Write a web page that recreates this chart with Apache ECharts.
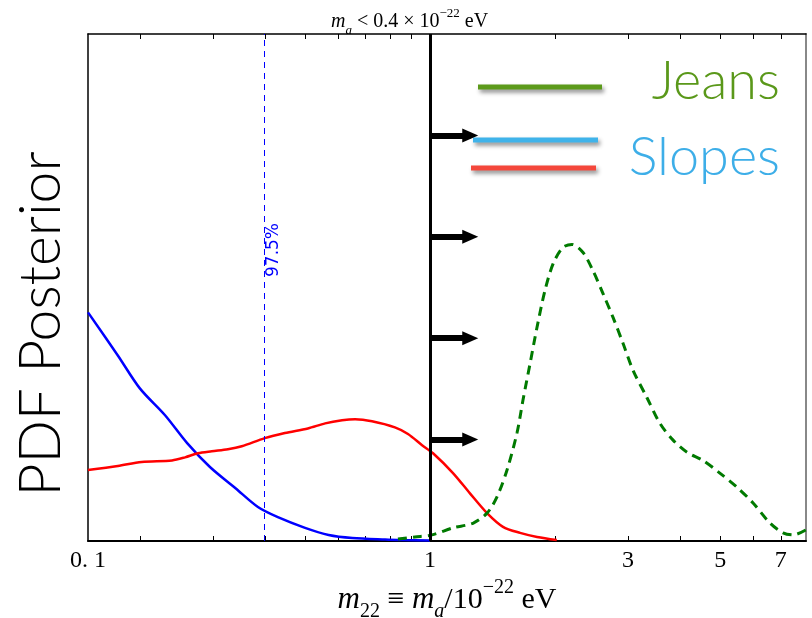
<!DOCTYPE html>
<html>
<head>
<meta charset="utf-8">
<title>PDF Posterior</title>
<script src="https://cdn.jsdelivr.net/npm/echarts@6/dist/echarts.min.js"></script>
<style>
  html, body { margin: 0; padding: 0; background: #fff; }
  #chart { width: 812px; height: 618px; }
</style>
</head>
<body>
<div id="chart"></div>
<script>
// m22 sample points (log axis) and posterior values (arbitrary units)
const slopesBlueX = [0.15, 0.177, 0.2, 0.23, 0.26, 0.295, 0.34, 0.385, 0.43, 0.5, 0.57, 0.65, 0.78, 0.86, 1.0]
const slopesBlueY = [0.451, 0.366, 0.301, 0.248, 0.193, 0.146, 0.104, 0.067, 0.047, 0.026, 0.012, 0.006, 0.003, 0.002, 0.001]

const slopesRedX = [0.15, 0.177, 0.202, 0.239, 0.257, 0.276, 0.298, 0.326, 0.352, 0.4, 0.447, 0.508, 0.559, 0.614, 0.66,
  0.725, 0.823, 0.885, 0.957, 1.017, 1.136, 1.248, 1.372, 1.499, 1.648, 1.811, 2.02]
const slopesRedY = [0.140, 0.148, 0.156, 0.159, 0.165, 0.173, 0.177, 0.181, 0.187, 0.203, 0.213, 0.222, 0.232, 0.238, 0.240,
  0.236, 0.224, 0.211, 0.189, 0.173, 0.134, 0.094, 0.055, 0.028, 0.016, 0.008, 0.002]

const jeansX = [0.837, 0.92, 1.011, 1.136, 1.269, 1.372, 1.45, 1.533, 1.62, 1.675, 1.742, 1.81, 1.892, 1.98, 2.09, 2.198,
  2.337, 2.47, 2.611, 2.76, 2.917, 3.083, 3.33, 3.581, 3.851, 4.162, 4.543, 4.991, 5.49, 6.002, 6.599, 7.09, 7.5, 8.05]
const jeansY = [0.004, 0.008, 0.012, 0.026, 0.035, 0.055, 0.087, 0.140, 0.213, 0.278, 0.350, 0.421, 0.494, 0.547, 0.579, 0.585,
  0.569, 0.533, 0.488, 0.441, 0.390, 0.337, 0.283, 0.232, 0.199, 0.175, 0.159, 0.134, 0.106, 0.075, 0.035, 0.016, 0.012, 0.022]

/** axis range and ticks (m22) */
const xMin = 0.15
const xMax = 8.05
const tickValues = [0.2, 0.3, 0.4, 0.5, 0.6, 0.7, 0.8, 0.9, 1, 2, 3, 4, 5, 6, 7]
const labelValues = [0.15, 1, 3, 5, 7]
const labelTexts = ['0. 1', '1', '3', '5', '7']

/** 97.5% bound and lower-limit arrows */
const bound975 = 0.4
const jeansLimit = 1
const arrowEnd = 1.25
const arrowLevels = [0.8, 0.6, 0.4, 0.2]

const lg = (v) => Math.log10(v)
const toPairs = (xs, ys) => xs.map((x, i) => [lg(x), ys[i]])

const serif = '"Liberation Serif", "DejaVu Serif", serif'
const sans = 'Lato, "Open Sans", sans-serif'

function labelFor(v) {
  const i = labelValues.findIndex((x) => Math.abs(lg(x) - v) < 1e-6)
  return i >= 0 ? labelTexts[i] : ''
}

function makeXAxis(pos) {
  const bottom = pos === 'bottom'
  return {
    type: 'value',
    position: pos,
    min: lg(xMin),
    max: lg(xMax),
    axisLine: { show: true, onZero: false, lineStyle: { color: '#000', width: bottom ? 2 : 1.5 } },
    axisTick: {
      show: true,
      inside: true,
      length: 5,
      customValues: tickValues.map(lg),
      lineStyle: { color: '#000', width: 1 },
    },
    axisLabel: {
      show: bottom,
      customValues: labelValues.map(lg),
      formatter: labelFor,
      margin: 8,
      fontFamily: serif,
      fontSize: 24,
      color: '#000',
    },
    splitLine: { show: false },
    name: bottom ? '{i|m}{sub|22} ≡ {i|m}{sub2|a}/10{sup|−22} eV' : '',
    nameLocation: 'middle',
    nameGap: 32,
    nameTextStyle: {
      fontFamily: serif,
      fontSize: 30,
      color: '#000',
      rich: {
        i: { fontFamily: serif, fontStyle: 'italic', fontSize: 31, lineHeight: 34 },
        sub: { fontFamily: serif, fontSize: 20, verticalAlign: 'bottom', lineHeight: 26 },
        sub2: { fontFamily: serif, fontStyle: 'italic', fontSize: 20, verticalAlign: 'bottom', lineHeight: 26 },
        sup: { fontFamily: serif, fontSize: 20, verticalAlign: 'top', lineHeight: 44 },
      },
    },
  }
}

function makeYAxis(pos) {
  const left = pos === 'left'
  return {
    type: 'value',
    position: pos,
    min: 0,
    max: 1,
    axisLine: { show: true, onZero: false, lineStyle: { color: left ? '#000' : '#888', width: left ? 1.5 : 2 } },
    axisTick: { show: false },
    axisLabel: { show: false },
    splitLine: { show: false },
  }
}

const chart = echarts.init(document.getElementById('chart'), null, { renderer: 'canvas' })

const option = {
  animation: false,
  backgroundColor: '#fff',
  title: {
    text: '{i|m}{sub|a} < 0.4 × 10{sup|−22} eV',
    left: 326,
    top: 2,
    textStyle: {
      fontFamily: serif,
      fontWeight: 'normal',
      fontSize: 20,
      color: '#000',
      rich: {
        i: { fontFamily: serif, fontStyle: 'italic', fontSize: 20, lineHeight: 24 },
        sub: { fontFamily: serif, fontStyle: 'italic', fontSize: 13, verticalAlign: 'bottom', lineHeight: 20 },
        sup: { fontFamily: serif, fontSize: 13, verticalAlign: 'top', lineHeight: 30 },
      },
    },
  },
  grid: { left: 88, right: 6, top: 34, bottom: 77, containLabel: false, outerBoundsMode: 'none' },
  xAxis: [makeXAxis('bottom'), makeXAxis('top')],
  yAxis: [makeYAxis('left'), makeYAxis('right')],
  series: [
    {
      name: 'Slopes (blue)',
      type: 'line',
      data: toPairs(slopesBlueX, slopesBlueY),
      smooth: 0.3,
      showSymbol: false,
      lineStyle: { color: '#0000ff', width: 2.5 },
      itemStyle: { color: '#0000ff' },
      z: 3,
      markLine: {
        silent: true,
        symbol: 'none',
        label: { show: false },
        lineStyle: { color: '#0000ff', width: 1, type: [6, 5] },
        data: [{ xAxis: lg(bound975) }],
      },
    },
    {
      name: 'Slopes (red)',
      type: 'line',
      data: toPairs(slopesRedX, slopesRedY),
      smooth: 0.3,
      showSymbol: false,
      lineStyle: { color: '#ff0000', width: 2.5 },
      itemStyle: { color: '#ff0000' },
      z: 3,
    },
    {
      name: 'Jeans',
      type: 'line',
      data: toPairs(jeansX, jeansY),
      smooth: 0.3,
      showSymbol: false,
      lineStyle: { color: '#007a00', width: 3, type: [9, 6] },
      itemStyle: { color: '#007a00' },
      z: 3,
      markLine: {
        silent: true,
        label: { show: false },
        symbol: ['none', 'triangle'],
        symbolSize: [14, 16],
        lineStyle: { color: '#000', width: 6, type: 'solid' },
        data: [
          [{ coord: [lg(jeansLimit), 0], symbol: 'none', lineStyle: { width: 3 } }, { coord: [lg(jeansLimit), 1], symbol: 'none' }],
          ...arrowLevels.map((y) => [{ coord: [lg(jeansLimit), y] }, { coord: [lg(arrowEnd), y] }]),
        ],
      },
    },
  ],
}

chart.setOption(option)

/** annotations: 97.5% label, y-axis title and the inset key */
const px975 = chart.convertToPixel({ xAxisIndex: 0 }, lg(bound975))
const shadow = { shadowBlur: 4, shadowOffsetX: 2, shadowOffsetY: 3, shadowColor: 'rgba(0,0,0,0.45)' }

chart.setOption({
  graphic: [
    {
      type: 'text',
      x: px975 + 9,
      y: 250,
      rotation: Math.PI / 2,
      style: { text: '97.5%', fontFamily: '"DejaVu Sans", sans-serif', fontSize: 17, fill: '#0000ff', align: 'center', verticalAlign: 'middle' },
    },
    {
      type: 'text',
      x: 42,
      y: 324,
      rotation: Math.PI / 2,
      style: { text: 'PDF Posterior', fontFamily: sans, fontWeight: 300, fontSize: 57, fill: '#000', align: 'center', verticalAlign: 'middle' },
    },
    { type: 'line', shape: { x1: 478, y1: 87, x2: 602, y2: 87 }, style: { stroke: '#5c9a1b', lineWidth: 5, ...shadow } },
    { type: 'line', shape: { x1: 473, y1: 140, x2: 598, y2: 140 }, style: { stroke: '#3fb3ea', lineWidth: 5, ...shadow } },
    { type: 'line', shape: { x1: 471, y1: 168, x2: 596, y2: 168 }, style: { stroke: '#f4473b', lineWidth: 5, ...shadow } },
    {
      type: 'text',
      x: 780,
      y: 82,
      style: { text: 'Jeans', fontFamily: sans, fontWeight: 300, fontSize: 54, fill: '#5a981a', align: 'right', verticalAlign: 'middle' },
    },
    {
      type: 'text',
      x: 780,
      y: 158,
      style: { text: 'Slopes', fontFamily: sans, fontWeight: 300, fontSize: 54, fill: '#3daee8', align: 'right', verticalAlign: 'middle' },
    },
  ],
})
</script>
</body>
</html>
